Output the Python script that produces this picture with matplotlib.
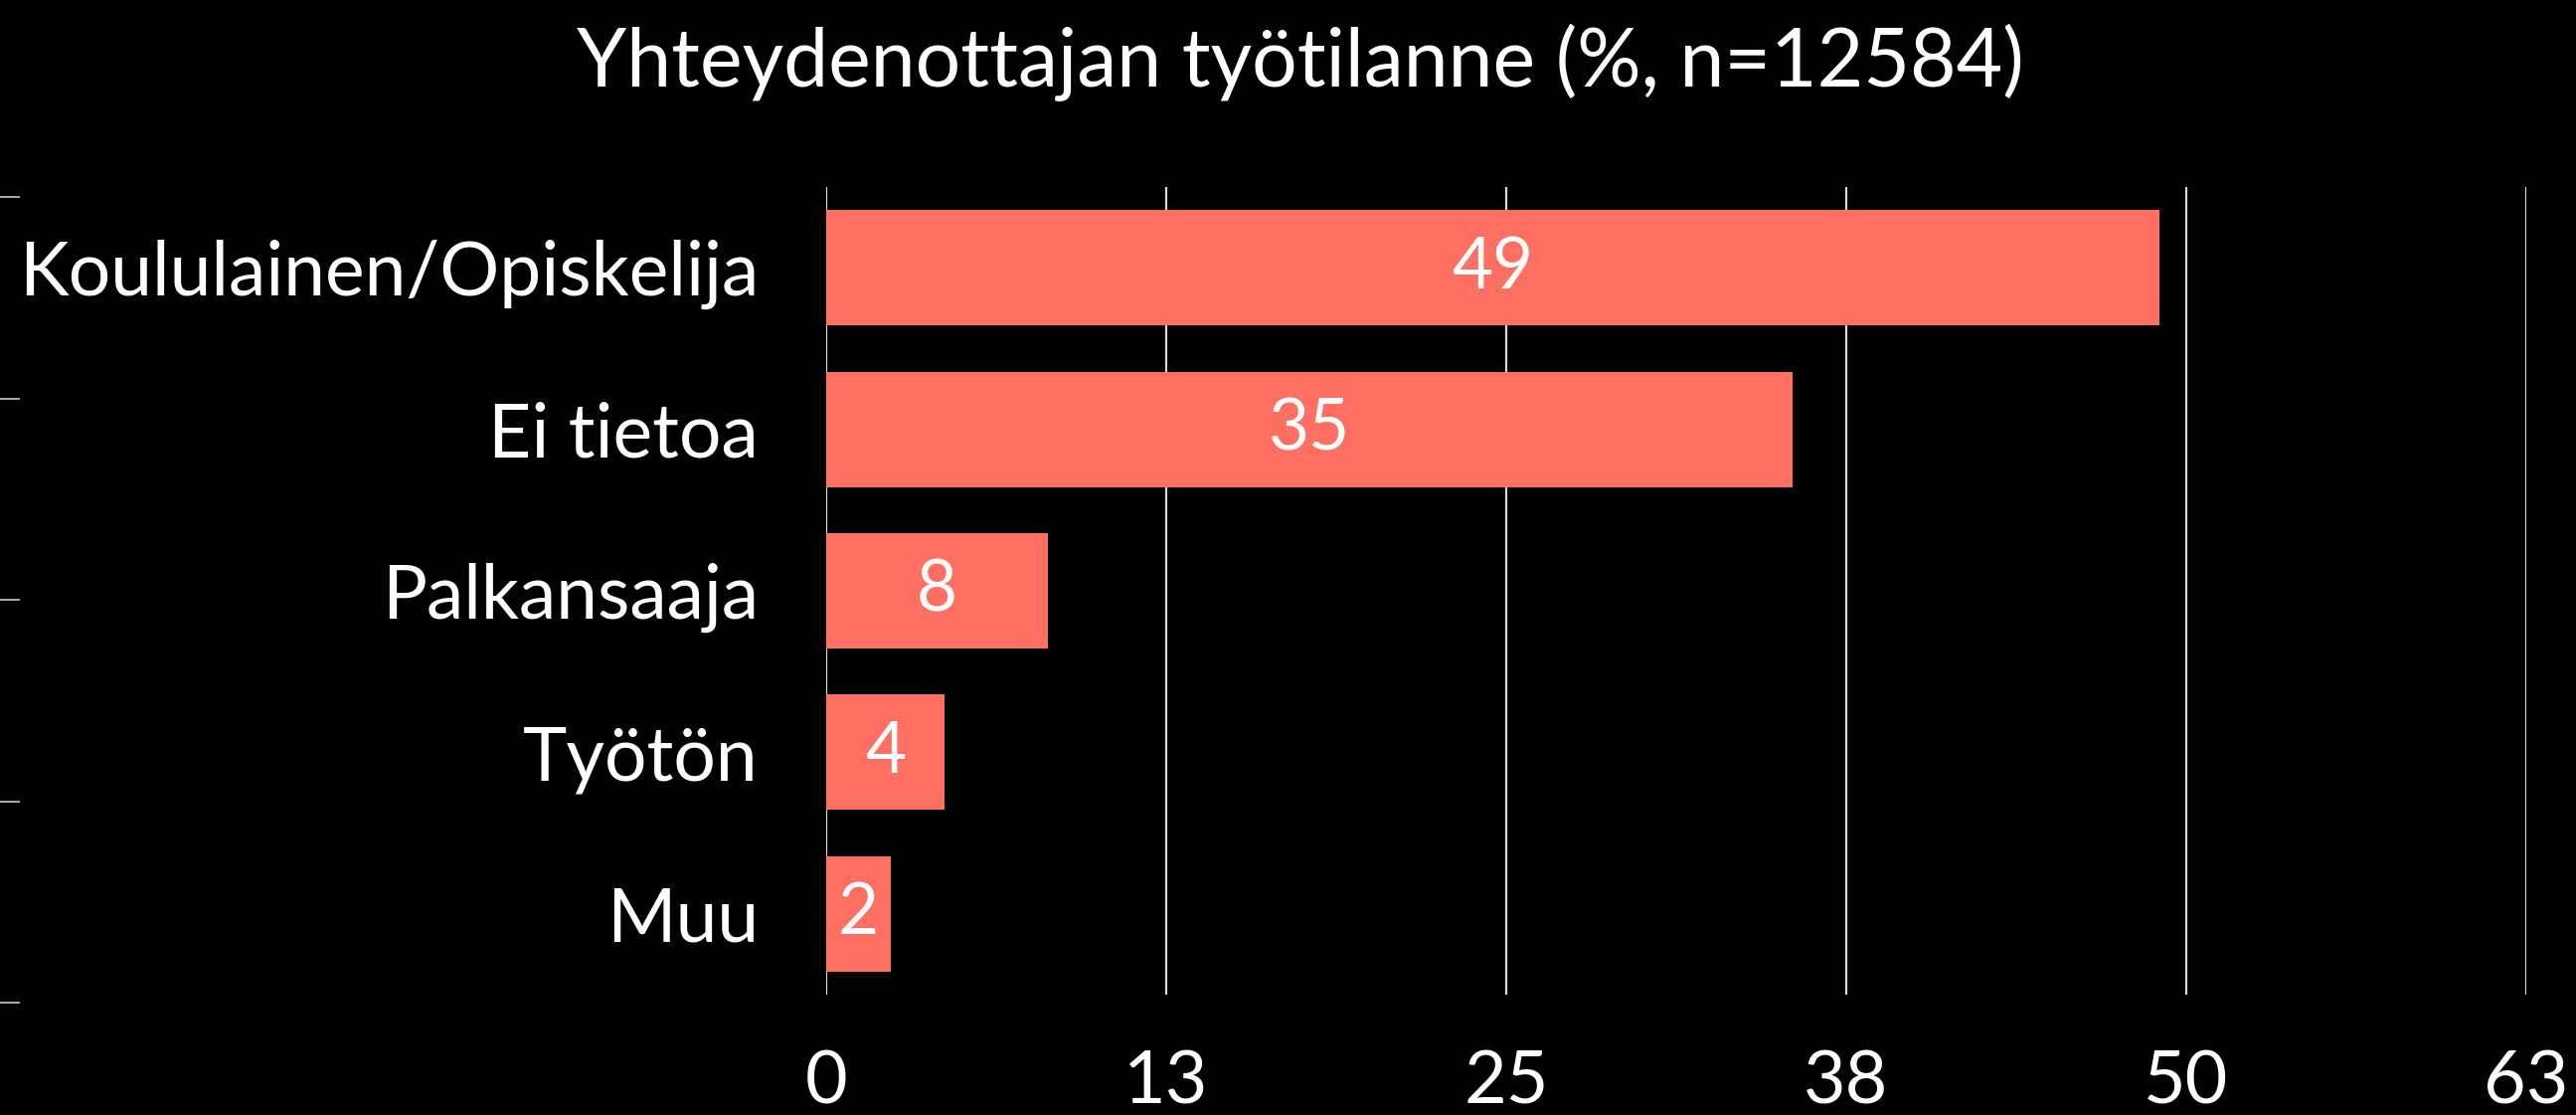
import numpy as np
import matplotlib
matplotlib.use("Agg")
import matplotlib.pyplot as plt

# Data
categories = ["Koululainen/Opiskelija", "Ei tietoa", "Palkansaaja", "Työtön", "Muu"]
shares = [49.4, 35.8, 8.2, 4.4, 2.4]
value_labels = ["49", "35", "8", "4", "2"]
x_max = 63
x_ticks = np.linspace(0, x_max, 6)
x_tick_labels = ["0", "13", "25", "38", "50", "63"]
title = "Yhteydenottajan työtilanne (%, n=12584)"

bar_color = "#ff7063"
text_color = "white"
grid_color = "#d9d9d9"

plt.rcParams["font.family"] = ["Lato", "DejaVu Sans"]
plt.rcParams["font.weight"] = "normal"

W, H = 2591, 1121
fig = plt.figure(figsize=(W / 100, H / 100), dpi=100, facecolor="black")

# Main bar axes
ax = fig.add_axes([831 / W, (H - 1000) / H, 1710 / W, 812 / H], facecolor="black")
y = np.arange(len(categories))
ax.barh(y, shares, height=0.714, color=bar_color, zorder=3)
for yi, v, lab in zip(y, shares, value_labels):
    ax.text(v / 2, yi, lab, ha="center", va="center", color=text_color,
            fontsize=51, zorder=4)

ax.set_xlim(0, x_max)
ax.set_ylim(len(categories) - 0.5, -0.5)
ax.set_xticks(x_ticks)
ax.set_xticklabels(x_tick_labels)
ax.set_yticks(y)
ax.set_yticklabels(categories)
ax.tick_params(axis="x", length=0, pad=40, labelsize=53, labelcolor=text_color)
ax.tick_params(axis="y", length=0, pad=49, labelsize=54, labelcolor=text_color)
ax.grid(axis="x", color=grid_color, linewidth=1.6, zorder=1)
for s in ax.spines.values():
    s.set_visible(False)

# Stray tick marks at the far left
ax2 = fig.add_axes([20 / W, (H - 1008) / H, 1 / W, 810 / H])
ax2.set_ylim(0, 4)
ax2.set_yticks(range(5))
ax2.set_yticklabels([])
ax2.set_xticks([])
ax2.tick_params(axis="y", length=15, width=1.3, color="#bbbbbb", direction="out")
ax2.set_facecolor("none")
for s in ax2.spines.values():
    s.set_visible(False)

fig.text(1308 / W, 1 - 87 / H, title, ha="center", va="baseline",
         color=text_color, fontsize=58)

fig.savefig("out.png", dpi=100, facecolor="black")
